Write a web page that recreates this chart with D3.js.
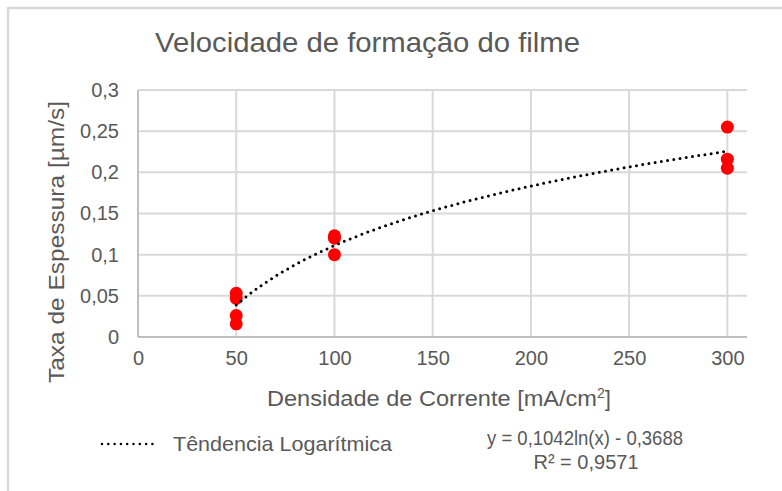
<!DOCTYPE html>
<html>
<head>
<meta charset="utf-8">
<script src="https://cdnjs.cloudflare.com/ajax/libs/d3/7.8.5/d3.min.js"></script>
<style>
  body { margin: 0; background: #fff; }
  svg text { font-family: "Liberation Sans", Arial, sans-serif; fill: #595959; }
</style>
</head>
<body>
<div id="chart"></div>
<script>
// densidade de corrente (mA/cm2) e taxa de espessura (um/s)
var densidade = [50, 50, 50, 50, 100, 100, 100, 300, 300, 300];
var taxa = [0.053, 0.047, 0.026, 0.016, 0.123, 0.120, 0.100, 0.255, 0.216, 0.205];
var xTicks = [0, 50, 100, 150, 200, 250, 300];
var yTicks = [0, 0.05, 0.1, 0.15, 0.2, 0.25, 0.3];
// coeficientes da linha de tendencia (y = a ln(x) + b)
var trendA = 0.1042, trendB = -0.3688, trendR2 = 0.9571;
var trendRange = [50, 300];

var w = 782, h = 491,
    p = {"top": 90, "right": 35, "left": 138, "bot": 154};

var svg = d3.select("#chart").append("svg")
  .attr("width", w)
  .attr("height", h)

// chart border (only top/left visible)
svg.append("path")
  .attr("d", "M8," + h + "V8H" + w)
  .attr("fill", "none")
  .attr("stroke", "#d9d9d9")
  .attr("stroke-width", 2.5)

var x = d3.scaleLinear().domain([0, 310]).range([p.left, w - p.right]);
var y = d3.scaleLinear().domain([0, 0.3]).range([h - p.bot, p.top]);
var fmt = function(v){ return String(+v.toFixed(4)).replace(".", ","); };

// gridlines
svg.append("g")
  .selectAll("line")
  .data(yTicks.filter(function(d){ return d > 0 }))
  .enter().append("line")
    .attr("x1", x(0)).attr("x2", x(310))
    .attr("y1", function(d){ return y(d) }).attr("y2", function(d){ return y(d) })
    .attr("stroke", "#d9d9d9").attr("stroke-width", 2)

svg.append("g")
  .selectAll("line")
  .data(xTicks.filter(function(d){ return d > 0 }))
  .enter().append("line")
    .attr("x1", function(d){ return x(d) }).attr("x2", function(d){ return x(d) })
    .attr("y1", y(0)).attr("y2", y(0.3))
    .attr("stroke", "#d9d9d9").attr("stroke-width", 2)

// axes
var xAxis = d3.axisBottom(x).tickValues(xTicks).tickSize(0).tickPadding(14).tickFormat(fmt);
var yAxis = d3.axisLeft(y).tickValues(yTicks).tickSize(0).tickPadding(19).tickFormat(fmt);

var gx = svg.append("g")
  .attr("transform", "translate(0," + y(0) + ")")
  .call(xAxis)
gx.select(".domain").attr("stroke", "#bfbfbf").attr("stroke-width", 2).attr("d", "M" + x(0) + ",0H" + x(310))
gx.selectAll("text").style("font-size", "20px").attr("fill", "#595959")

var gy = svg.append("g")
  .attr("transform", "translate(" + x(0) + ",0)")
  .call(yAxis)
gy.select(".domain").attr("stroke", "#bfbfbf").attr("stroke-width", 2).attr("d", "M0," + y(0) + "V" + y(0.3))
gy.selectAll("text").style("font-size", "20px").attr("fill", "#595959")

// points
svg.append("g")
  .selectAll("circle")
  .data(densidade.map(function(d, i){ return {x: d, y: taxa[i]} }))
  .enter().append("circle")
    .attr("cx", function(d){ return x(d.x) })
    .attr("cy", function(d){ return y(d.y) })
    .attr("r", 6.5)
    .attr("fill", "#ff0000")

// logarithmic trendline
var trendPts = d3.range(trendRange[0], trendRange[1] + 1, 2);
var line = d3.line()
  .x(function(d){ return x(d) })
  .y(function(d){ return y(trendA * Math.log(d) + trendB) })
svg.append("path")
  .datum(trendPts)
  .attr("d", line)
  .attr("fill", "none")
  .attr("stroke", "#000")
  .attr("stroke-width", 3)
  .attr("stroke-linecap", "round")
  .attr("stroke-dasharray", "0 6.3")

// titles
svg.append("text")
  .attr("x", 155).attr("y", 52)
  .attr("textLength", 425).attr("lengthAdjust", "spacingAndGlyphs")
  .style("font-size", "28px")
  .text("Velocidade de formação do filme")

svg.append("text")
  .attr("transform", "translate(64,383) rotate(-90)")
  .attr("textLength", 282).attr("lengthAdjust", "spacingAndGlyphs")
  .style("font-size", "22px")
  .text("Taxa de Espessura [µm/s]")

var xt = svg.append("text")
  .attr("x", 267).attr("y", 406)
  .style("font-size", "22px")
xt.append("tspan").attr("textLength", 330).attr("lengthAdjust", "spacingAndGlyphs").text("Densidade de Corrente [mA/cm")
xt.append("tspan").attr("dy", -8).style("font-size", "14px").text("2")
xt.append("tspan").attr("dy", 8).text("]")

// legend
svg.append("line")
  .attr("x1", 102).attr("x2", 158)
  .attr("y1", 444).attr("y2", 444)
  .attr("stroke", "#000")
  .attr("stroke-width", 2.5)
  .attr("stroke-linecap", "round")
  .attr("stroke-dasharray", "0 6.3")
svg.append("text")
  .attr("x", 173).attr("y", 451)
  .attr("textLength", 219).attr("lengthAdjust", "spacingAndGlyphs")
  .style("font-size", "21px")
  .text("Têndencia Logarítmica")

svg.append("text")
  .attr("x", 487).attr("y", 445)
  .attr("textLength", 196).attr("lengthAdjust", "spacingAndGlyphs")
  .style("font-size", "20px")
  .text("y = " + fmt(trendA) + "ln(x) - " + fmt(-trendB))
svg.append("text")
  .attr("x", 586).attr("y", 469)
  .style("text-anchor", "middle")
  .style("font-size", "20px")
  .text("R² = " + fmt(trendR2))
</script>
</body>
</html>
